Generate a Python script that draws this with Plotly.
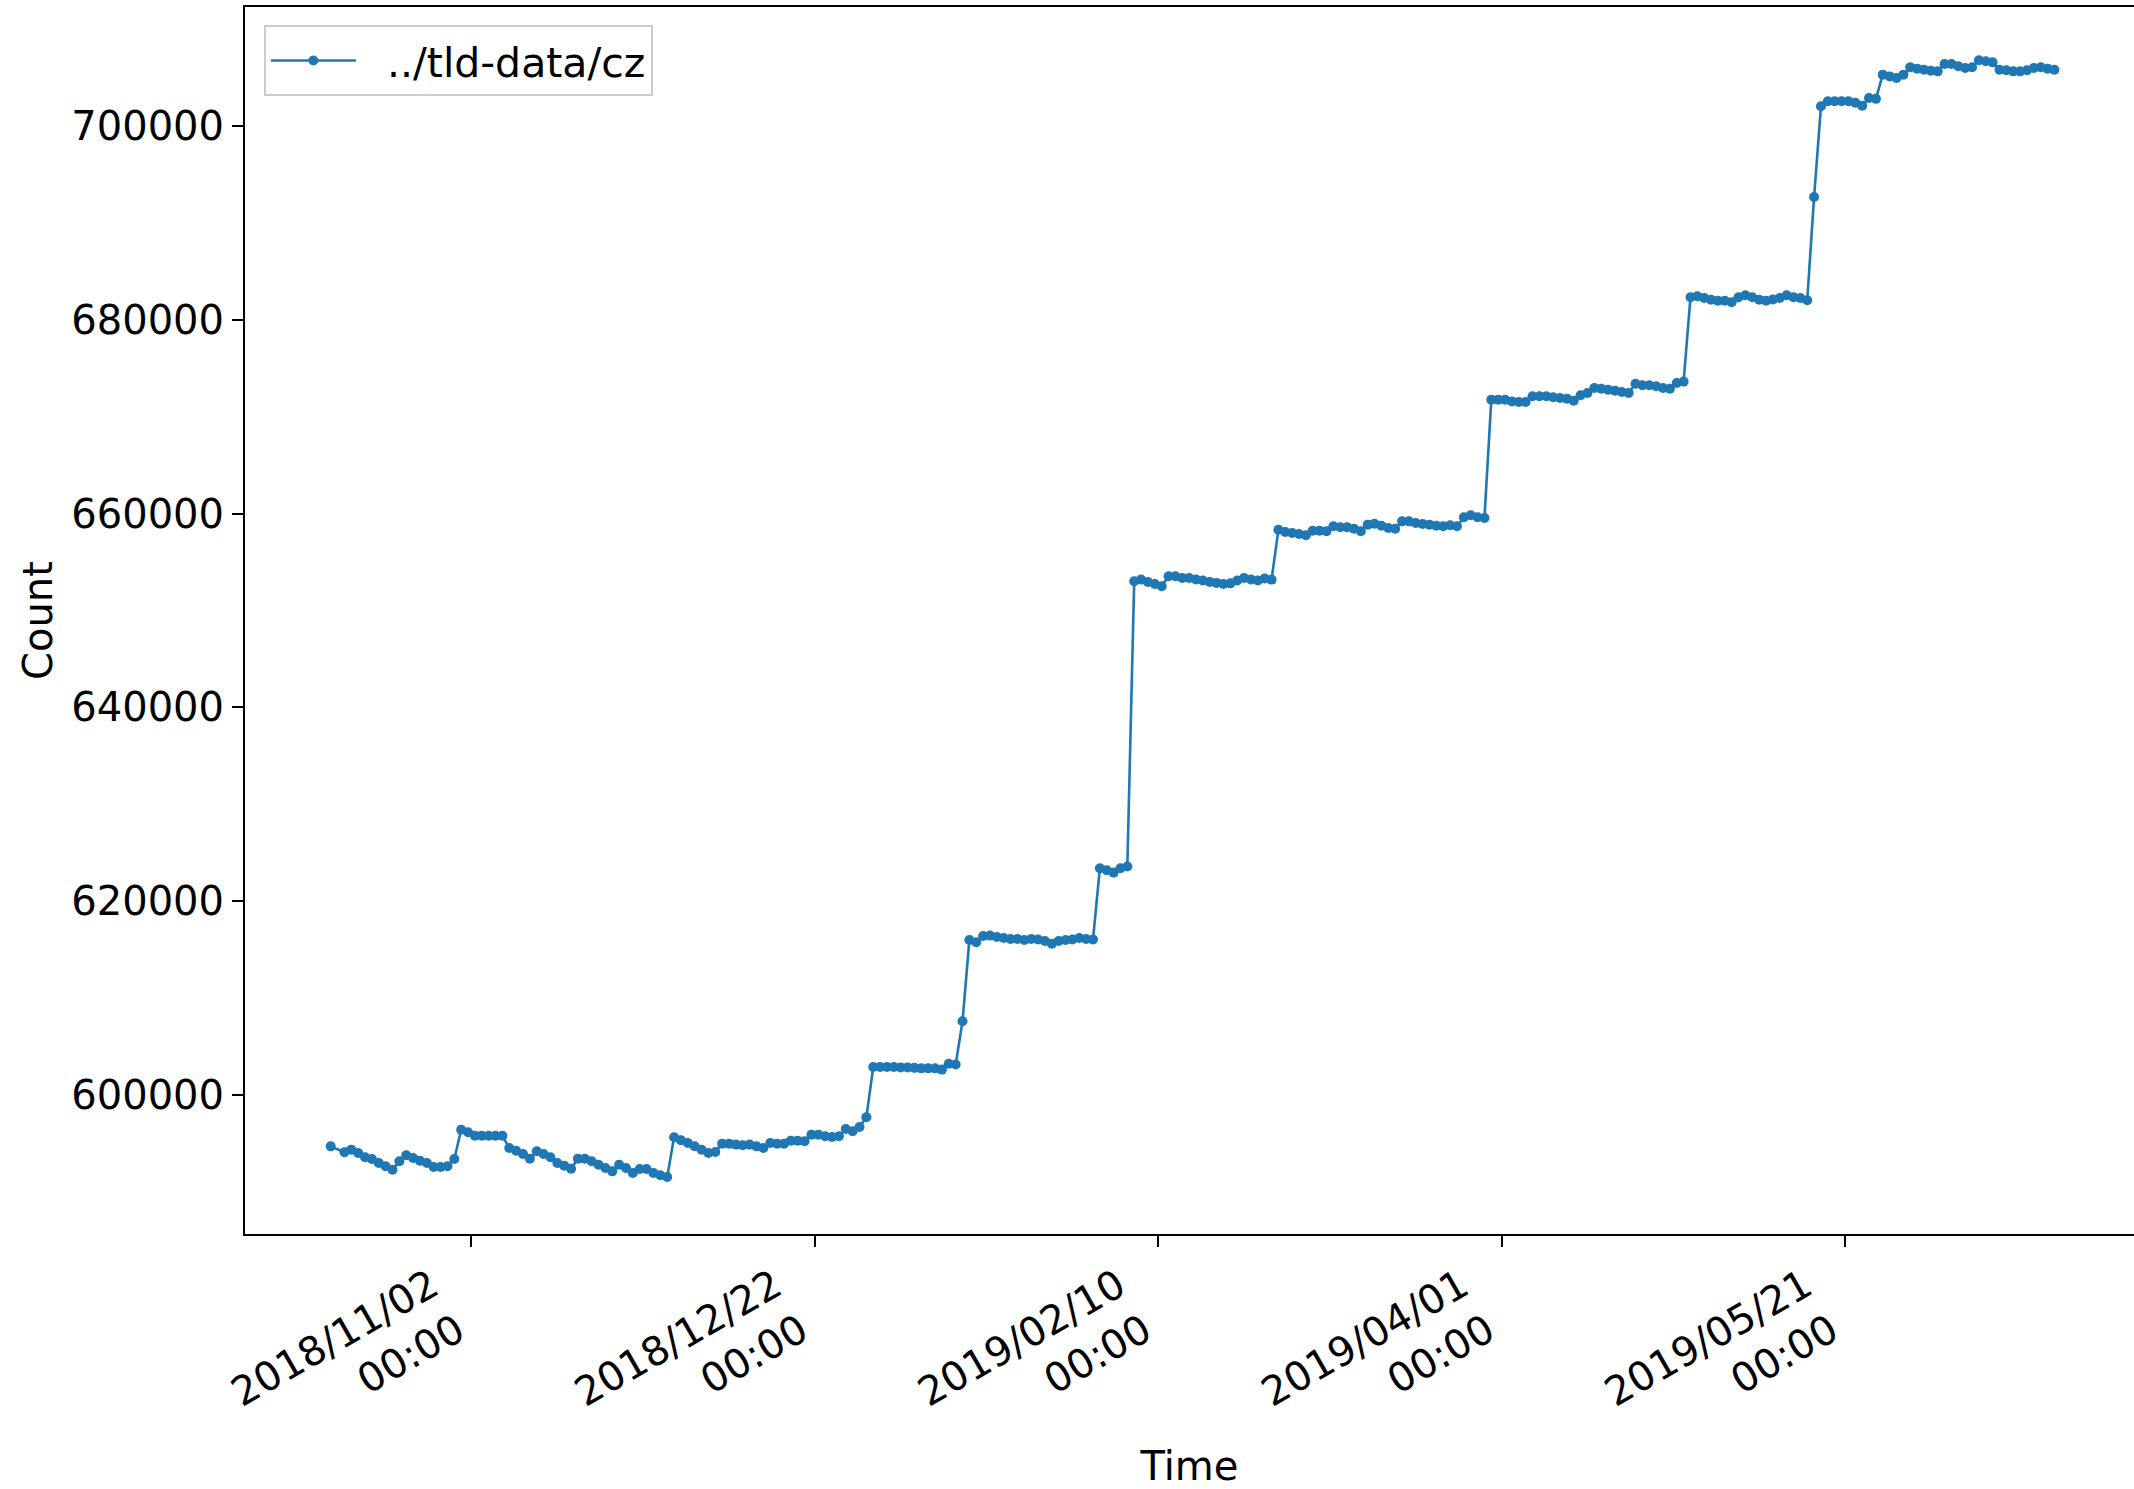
import pandas as pd
import plotly.graph_objects as go

# ---- data ----
series_name = "../tld-data/cz"
start_time = "2018-10-12 12:00"   # first sample, one sample per day

seg_oct_nov = [594700, None, 594090, 594360, 594010, 593570, 593400, 592980, 592640, 592290,
               593160, 593780, 593500, 593220, 592980, 592570, 592570, 592640, 593400]
seg_nov = [596420, 596150, 595800, 595800, 595800, 595800, 595800, 594530, 594250, 593910,
           593430, 594190, 593910, 593570, 592980, 592710, 592390, 593430, 593430, 593160,
           592810, 592470, 592120, 592810, 592470, 591950, 592360, 592360, 591950, 591710, 591540]
seg_dec = [595640, 595330, 595050, 594710, 594360, 594010, 594120, 594980, 594980, 594880,
           594810, 594880, 594700, 594530, 595050, 594980, 594980, 595290, 595290, 595220,
           595910, 595910, 595740, 595670, 595740, 596490, 596250, 596700, 597700]
seg_jan = [602890, 602890, 602890, 602890, 602850, 602850, 602800, 602750, 602750, 602750,
           602620, 603230, 603150, 607610]
seg_feb = [616000, 615770, 616400, 616450, 616300, 616200, 616100, 616100, 616000, 616100,
           616050, 615900, 615600, 615900, 616000, 616050, 616200, 616100, 616050,
           623400, 623200, 622950, 623400, 623580]
seg_feb2 = [653010, 653190, 652940, 652740, 652500, 653530, 653530, 653350, 653350, 653200,
            653100, 652950, 652850, 652740, 652800, 653100, 653350, 653200, 653100, 653300, 653190]
seg_mar = [658340, 658100, 658000, 657900, 657760, 658240, 658240, 658170, 658690, 658590,
           658590, 658440, 658170, 658860, 658960, 658750, 658510, 658440, 659200, 659200,
           659030, 658930, 658860, 658750, 658690, 658790, 658700, 659620, 659830, 659620, 659550]
seg_apr = [671760, 671760, 671760, 671580, 671520, 671520, 672110, 672110, 672110, 672000,
           671930, 671860, 671650, 672210, 672450, 672960, 672890, 672790, 672690, 672550,
           672450, 673400, 673240, 673240, 673140, 672960, 672890, 673480, 673620]
seg_may = [682320, 682430, 682250, 682080, 681970, 681970, 681810, 682320, 682530, 682320,
           682080, 681970, 682100, 682250, 682530, 682320, 682250, 682010]
seg_jun = [692670, 702030, 702550, 702550, 702550, 702550, 702400, 702100, 702890, 702800,
           705300, 705120, 704950, 705300, 706060, 705920, 705810, 705710, 705640,
           706400, 706400, 706160, 705990, 706060, 706780, 706680, 706570, 705810, 705750,
           705640, 705640, 705750, 705990, 706060, 705920, 705810]

counts = (seg_oct_nov + seg_nov + seg_dec + seg_jan + seg_feb + seg_feb2
          + seg_mar + seg_apr + seg_may + seg_jun)
times = pd.date_range(start_time, periods=len(counts), freq="D")

x_tick_dates = ["2018-11-02", "2018-12-22", "2019-02-10", "2019-04-01", "2019-05-21"]
x_tick_text = ["2018/11/02<br>00:00", "2018/12/22<br>00:00", "2019/02/10<br>00:00",
               "2019/04/01<br>00:00", "2019/05/21<br>00:00"]
y_ticks = [600000, 620000, 640000, 660000, 680000, 700000]

x_range = ["2018-09-30 00:30", "2019-07-02 02:00"]
y_range = [585655, 712281]

# ---- figure ----
BLUE = "#1f77b4"
FONT = "DejaVu Sans"

fig = go.Figure()
fig.add_trace(go.Scatter(
    x=times, y=counts, name="\u00a0\u00a0" + series_name, mode="lines+markers",
    connectgaps=True,
    line=dict(color=BLUE, width=2.6),
    marker=dict(color=BLUE, size=10, line=dict(width=0)),
))

fig.update_layout(
    width=2134, height=1489,
    margin=dict(l=245, r=0, t=7, b=255, autoexpand=False),
    paper_bgcolor="white", plot_bgcolor="white",
    font=dict(family=FONT, size=40, color="black"),
    showlegend=True,
    legend=dict(x=0.01, y=0.985, xanchor="left", yanchor="top",
                bgcolor="rgba(255,255,255,0.8)", bordercolor="#cccccc", borderwidth=2,
                font=dict(family=FONT, size=41), itemwidth=85,
                tracegroupgap=0),
)

fig.update_xaxes(
    range=x_range, type="date",
    tickmode="array", tickvals=x_tick_dates, ticktext=x_tick_text,
    tickangle=-30, ticks="outside", ticklen=11, tickwidth=2, tickcolor="black",
    tickfont=dict(family=FONT, size=40), ticklabelshift=-40,
    showline=True, linecolor="black", linewidth=2, mirror=True,
    showgrid=False, zeroline=False,
    title=dict(text="Time", font=dict(family=FONT, size=40), standoff=30),
    automargin=False,
)
fig.update_yaxes(
    range=y_range,
    tickmode="array", tickvals=y_ticks, ticktext=[str(v) for v in y_ticks],
    ticks="outside", ticklen=11, tickwidth=2, tickcolor="black",
    tickfont=dict(family=FONT, size=40),
    showline=True, linecolor="black", linewidth=2, mirror=False,
    showgrid=False, zeroline=False,
    title=dict(text="Count", font=dict(family=FONT, size=40), standoff=6),
    automargin=False,
)

fig.write_html("out.html",
               config={"displayModeBar": False},
               post_script="document.body.style.margin='0px';document.body.style.overflow='hidden';")
